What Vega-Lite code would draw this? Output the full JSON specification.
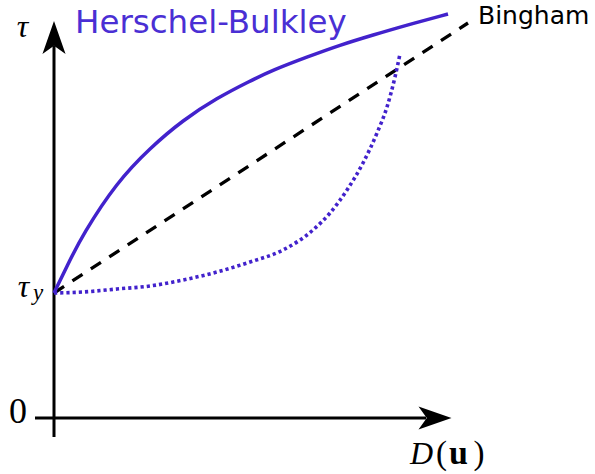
{
  "$schema": "https://vega.github.io/schema/vega-lite/v6.json",
  "width": 595,
  "height": 474,
  "padding": 0,
  "autosize": {"type": "none"},
  "background": "white",
  "config": {"view": {"stroke": null}},
  "datasets": {
    "curves": [
      {"model": "Bingham", "x": 0, "y": 125},
      {"model": "Bingham", "x": 414, "y": 395},
      {"model": "Herschel-Bulkley", "x": 0, "y": 125},
      {"model": "Herschel-Bulkley", "x": 13, "y": 152},
      {"model": "Herschel-Bulkley", "x": 29, "y": 184},
      {"model": "Herschel-Bulkley", "x": 63, "y": 236},
      {"model": "Herschel-Bulkley", "x": 96, "y": 270},
      {"model": "Herschel-Bulkley", "x": 129, "y": 298},
      {"model": "Herschel-Bulkley", "x": 163, "y": 320},
      {"model": "Herschel-Bulkley", "x": 196, "y": 337},
      {"model": "Herschel-Bulkley", "x": 219, "y": 348},
      {"model": "Herschel-Bulkley", "x": 253, "y": 361},
      {"model": "Herschel-Bulkley", "x": 286, "y": 373},
      {"model": "Herschel-Bulkley", "x": 319, "y": 383},
      {"model": "Herschel-Bulkley", "x": 353, "y": 393},
      {"model": "Herschel-Bulkley", "x": 394, "y": 404},
      {"model": "shear-thickening", "x": 0, "y": 125},
      {"model": "shear-thickening", "x": 29, "y": 126},
      {"model": "shear-thickening", "x": 63, "y": 129},
      {"model": "shear-thickening", "x": 96, "y": 132},
      {"model": "shear-thickening", "x": 129, "y": 138},
      {"model": "shear-thickening", "x": 163, "y": 146},
      {"model": "shear-thickening", "x": 196, "y": 156},
      {"model": "shear-thickening", "x": 229, "y": 168},
      {"model": "shear-thickening", "x": 259, "y": 188},
      {"model": "shear-thickening", "x": 276, "y": 205},
      {"model": "shear-thickening", "x": 293, "y": 228},
      {"model": "shear-thickening", "x": 309, "y": 255},
      {"model": "shear-thickening", "x": 323, "y": 285},
      {"model": "shear-thickening", "x": 333, "y": 311},
      {"model": "shear-thickening", "x": 341, "y": 341},
      {"model": "shear-thickening", "x": 346, "y": 364}
    ]
  },
  "encoding": {
    "x": {"field": "x", "type": "quantitative", "scale": {"domain": [-54, 541], "nice": false, "zero": false}, "axis": null},
    "y": {"field": "y", "type": "quantitative", "scale": {"domain": [-56, 418], "nice": false, "zero": false}, "axis": null}
  },
  "layer": [
    {
      "data": {"values": [
        {"x": 0, "y": -19, "x2": 0, "y2": 372},
        {"x": -19, "y": 0, "x2": 372, "y2": 0}
      ]},
      "mark": {"type": "rule", "strokeWidth": 3, "color": "black"},
      "encoding": {"x2": {"field": "x2"}, "y2": {"field": "y2"}}
    },
    {
      "data": {"values": [{"x": 0, "y": 380.5}]},
      "mark": {"type": "point", "shape": "M0,-1L0.7,1L0,0.5L-0.7,1Z", "filled": true, "size": 1089, "color": "black", "opacity": 1, "strokeWidth": 0}
    },
    {
      "data": {"values": [{"x": 381, "y": 0}]},
      "mark": {"type": "point", "shape": "M0,-1L0.7,1L0,0.5L-0.7,1Z", "filled": true, "size": 1089, "color": "black", "opacity": 1, "strokeWidth": 0, "angle": 90}
    },
    {
      "data": {"name": "curves"},
      "transform": [{"filter": "datum.model === 'Bingham'"}],
      "mark": {"type": "line", "strokeWidth": 3.3, "strokeDash": [12, 10], "strokeCap": "butt", "color": "black"}
    },
    {
      "data": {"name": "curves"},
      "transform": [{"filter": "datum.model === 'Herschel-Bulkley'"}],
      "mark": {"type": "line", "strokeWidth": 3.5, "interpolate": "basis", "color": "#4222cc"}
    },
    {
      "data": {"name": "curves"},
      "transform": [{"filter": "datum.model === 'shear-thickening'"}],
      "mark": {"type": "line", "strokeWidth": 3.6, "strokeDash": [3.2, 3], "strokeCap": "butt", "interpolate": "monotone", "color": "#4222cc"}
    },
    {
      "data": {"values": [{"x": 21, "y": 385, "label": "Herschel-Bulkley"}]},
      "mark": {"type": "text", "align": "left", "baseline": "alphabetic", "font": "DejaVu Sans", "fontSize": 32.5, "color": "#4a2fd4"},
      "encoding": {"text": {"field": "label"}}
    },
    {
      "data": {"values": [{"x": 424, "y": 394, "label": "Bingham"}]},
      "mark": {"type": "text", "align": "left", "baseline": "alphabetic", "font": "DejaVu Sans", "fontSize": 25, "color": "black"},
      "encoding": {"text": {"field": "label"}}
    },
    {
      "data": {"values": [
        {"x": -31.5, "y": 381, "label": "τ"},
        {"x": -30.5, "y": 121, "label": "τ"},
        {"x": 367.5, "y": -46, "label": "D"}
      ]},
      "mark": {"type": "text", "align": "center", "baseline": "alphabetic", "font": "Liberation Serif", "fontStyle": "italic", "fontSize": 32, "color": "black"},
      "encoding": {"text": {"field": "label"}}
    },
    {
      "data": {"values": [{"x": -16, "y": 118, "label": "y"}]},
      "mark": {"type": "text", "align": "center", "baseline": "alphabetic", "font": "Liberation Serif", "fontStyle": "italic", "fontSize": 23, "color": "black"},
      "encoding": {"text": {"field": "label"}}
    },
    {
      "data": {"values": [{"x": -36, "y": -5, "label": "0"}]},
      "mark": {"type": "text", "align": "center", "baseline": "alphabetic", "font": "Liberation Serif", "fontSize": 36, "color": "black"},
      "encoding": {"text": {"field": "label"}}
    },
    {
      "data": {"values": [
        {"x": 387.5, "y": -46, "label": "("},
        {"x": 425, "y": -46, "label": ")"}
      ]},
      "mark": {"type": "text", "align": "center", "baseline": "alphabetic", "font": "Liberation Serif", "fontSize": 33, "color": "black"},
      "encoding": {"text": {"field": "label"}}
    },
    {
      "data": {"values": [{"x": 404.5, "y": -46, "label": "u"}]},
      "mark": {"type": "text", "align": "center", "baseline": "alphabetic", "font": "Liberation Serif", "fontWeight": "bold", "fontSize": 34, "color": "black"},
      "encoding": {"text": {"field": "label"}}
    }
  ]
}
